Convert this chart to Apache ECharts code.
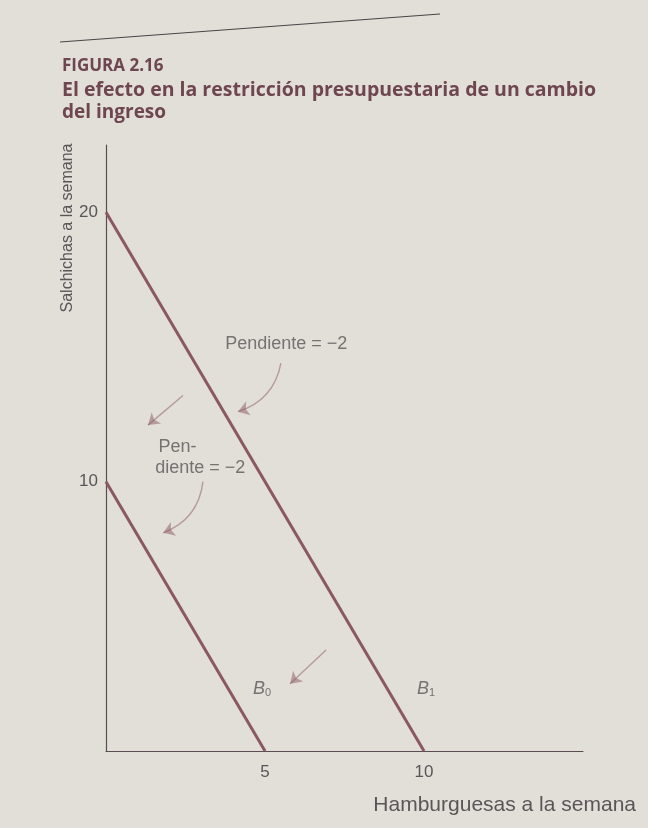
<!DOCTYPE html>
<html>
<head>
<meta charset="utf-8">
<script src="https://cdn.jsdelivr.net/npm/echarts@6/dist/echarts.min.js"></script>
<style>
  html, body { margin: 0; padding: 0; background: #e2ded8; }
  #chart { width: 648px; height: 828px; }
</style>
</head>
<body>
<div id="chart"></div>
<script>
// budget lines (hamburgers, sausages)
const lineB0 = [[0, 10], [5, 0]]
const lineB1 = [[0, 20], [10, 0]]
const xTicks = [5, 10]
const yTicks = [10, 20]

// annotation texts: [x, y, text]
const notes = [
  [3.75, 15.1, 'Pendiente = \u22122'],
  [1.65, 11.3, 'Pen-'],
  [1.55, 10.5, 'diente = \u22122']
]
const lineTags = [
  [4.62, 2.3, 'B', '0'],
  [9.78, 2.3, 'B', '1']
]
// arrows: [from, to, curveness]
const curvedArrows = [
  [[5.5, 14.4], [4.15, 12.6], 0.3],
  [[3.05, 10.0], [1.8, 8.1], 0.3]
]
const shiftArrows = [
  [[2.42, 13.2], [1.32, 12.1]],
  [[6.92, 3.75], [5.79, 2.5]]
]

const lineColor = '#8a5862'
const textColor = '#5c5558'
const font = 'Liberation Sans'

const chart = echarts.init(document.getElementById('chart'))

chart.setOption({
  backgroundColor: '#e2ded8',
  animation: false,
  grid: { left: 106, right: 65, top: 145, bottom: 77 },
  xAxis: {
    type: 'value', min: 0, max: 15, interval: 5,
    axisLine: { lineStyle: { color: '#5a4c50', width: 1.2 } },
    axisTick: { show: false },
    splitLine: { show: false },
    axisLabel: {
      color: textColor, fontFamily: font, fontSize: 17, margin: 13,
      formatter: v => xTicks.includes(v) ? String(v) : ''
    }
  },
  yAxis: {
    type: 'value', min: 0, max: 22.5, interval: 10,
    axisLine: { show: true, lineStyle: { color: '#5a4c50', width: 1.2 } },
    axisTick: { show: false },
    splitLine: { show: false },
    axisLabel: {
      color: textColor, fontFamily: font, fontSize: 17, margin: 8,
      formatter: v => yTicks.includes(v) ? String(v) : ''
    }
  },
  graphic: [
    { type: 'line', shape: { x1: 60, y1: 42, x2: 440, y2: 14 }, style: { stroke: '#4a4446', lineWidth: 1.2 } },
    { type: 'text', left: 62, top: 58, style: { text: 'FIGURA 2.16', fill: '#6e4650', font: 'bold 17px "Open Sans"' } },
    { type: 'text', left: 62, top: 80, style: { text: 'El efecto en la restricción presupuestaria de un cambio', fill: '#6e4650', font: 'bold 19.5px "Open Sans"' } },
    { type: 'text', left: 62, top: 103, style: { text: 'del ingreso', fill: '#6e4650', font: 'bold 19px "Open Sans"' } },
    { type: 'text', x: 68, y: 228, rotation: Math.PI / 2,
      style: { text: 'Salchichas a la semana', fill: textColor, font: '16px "Liberation Sans"', textAlign: 'center', textVerticalAlign: 'middle' } },
    { type: 'text', x: 636, y: 805,
      style: { text: 'Hamburguesas a la semana', fill: textColor, font: '21px "Liberation Sans"', textAlign: 'right', textVerticalAlign: 'middle' } }
  ],
  series: [
    {
      name: 'B0', type: 'line', data: lineB0, symbol: 'none',
      lineStyle: { color: lineColor, width: 3 }
    },
    {
      name: 'B1', type: 'line', data: lineB1, symbol: 'none',
      lineStyle: { color: lineColor, width: 3 }
    },
    {
      type: 'lines', coordinateSystem: 'cartesian2d',
      symbol: ['none', 'arrow'], symbolSize: 11,
      lineStyle: { color: lineColor, width: 1.4, curveness: 0.3 },
      data: curvedArrows.map(a => ({ coords: [a[0], a[1]], lineStyle: { curveness: a[2] } }))
    },
    {
      type: 'lines', coordinateSystem: 'cartesian2d',
      symbol: ['none', 'arrow'], symbolSize: 11,
      lineStyle: { color: lineColor, width: 1.4, curveness: 0 },
      data: shiftArrows.map(a => ({ coords: [a[0], a[1]] }))
    },
    {
      type: 'scatter', symbolSize: 0, silent: true,
      data: notes,
      label: {
        show: true, position: 'right', distance: 0,
        color: textColor, fontFamily: font, fontSize: 18,
        formatter: p => p.value[2]
      }
    },
    {
      type: 'scatter', symbolSize: 0, silent: true,
      data: lineTags,
      label: {
        show: true, position: 'right', distance: 0,
        formatter: p => '{b|' + p.value[2] + '}{s|' + p.value[3] + '}',
        rich: {
          b: { color: textColor, fontFamily: font, fontSize: 18, fontStyle: 'italic' },
          s: { color: textColor, fontFamily: font, fontSize: 11, verticalAlign: 'bottom', padding: [7, 0, 0, 0] }
        }
      }
    }
  ]
})
</script>
</body>
</html>
